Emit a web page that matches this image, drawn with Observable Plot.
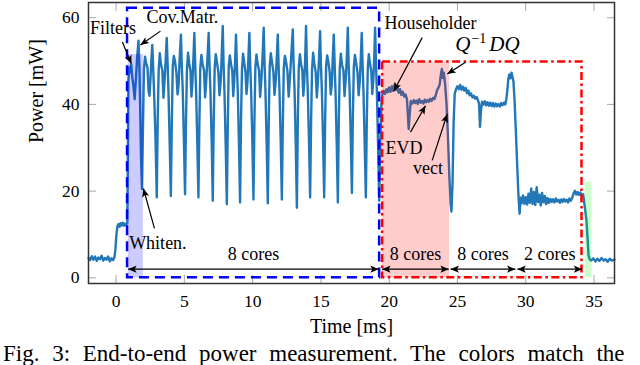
<!DOCTYPE html>
<html><head><meta charset="utf-8">
<script src="https://cdn.jsdelivr.net/npm/d3@7"></script>
<script src="https://cdn.jsdelivr.net/npm/@observablehq/plot@0.6"></script>
<style>
body{margin:0;background:#fff;width:640px;height:365px;overflow:hidden;position:relative;font-family:"Liberation Serif","Times New Roman",Times,"DejaVu Serif",serif}
#chart svg{display:block}
#chart svg text{font-family:"Liberation Serif","Times New Roman",Times,"DejaVu Serif",serif}
#cap{position:absolute;left:3px;top:342px;font-size:23px;line-height:24px;word-spacing:7px;white-space:nowrap;color:#000}
</style></head><body>
<div id="chart"></div>
<div id="cap">Fig. 3: End-to-end power measurement. The colors match the</div>
<script>
// ---- data: time [ms], power [mW] ----
const idleTrace = [[-2.02,4.6],[-1.9,4.1],[-1.78,5.0],[-1.66,4.2],[-1.54,4.9],[-1.42,3.9],[-1.3,4.7],[-1.18,4.3],[-1.06,5.1],[-0.94,4.0],[-0.82,4.6],[-0.7,4.2],[-0.58,4.9],[-0.46,3.8],[-0.34,4.5],[-0.22,4.1],[-0.12,4.8],[-0.05,6.5],[0.02,9.8],[0.1,11.9],[0.18,12.4],[0.26,11.8],[0.34,12.6],[0.42,12.1],[0.5,12.7],[0.58,12.0],[0.66,12.5],[0.74,12.2],[0.82,12.6]];
const whitenTrace = [[0.86,28],[0.9,45.5],[0.97,48.6],[1.04,47.4],[1.11,49.2],[1.19,46.1],[1.27,44.3],[1.36,41.2],[1.45,45.8],[1.55,51.2],[1.64,54.7],[1.71,48.2],[1.77,38.5],[1.83,27.4],[1.9,20.5],
[1.97,35],[2.04,48],[2.12,51],[2.2,49.5],[2.3,48.5],[2.38,43],[2.45,42],[2.52,46],[2.58,50],[2.65,53.7],[2.71,49],[2.78,43],[2.88,33],[2.98,18.6],
[3.05,37],[3.12,48],[3.2,51.8],[3.29,49.2],[3.39,47.8],[3.47,41.5],[3.55,45.5],[3.63,50.2],[3.71,55.3],[3.77,49.8],[3.84,42.5],[3.93,30.5],[4.01,18.9],
[4.08,35.5],[4.15,48.8],[4.23,51.2],[4.32,49.8],[4.42,47.2],[4.5,42.3],[4.58,44.6],[4.66,50.8],[4.75,56.1],[4.81,49.2],[4.88,43.4],[4.97,31.2],[5.05,19.3],
[5.12,36.4],[5.19,48.1],[5.27,51.9],[5.36,49.4],[5.45,47.6],[5.52,41.8],[5.59,45.1],[5.66,50.4],[5.73,56.5],[5.79,49.6],[5.86,42.8],[5.95,30.8],[6.03,18.6],
[6.1,35.8],[6.17,48.6],[6.25,51.4],[6.34,49.1],[6.44,47.9],[6.52,41.6],[6.6,45.3],[6.69,50.6],[6.78,56.5],[6.84,49.3],[6.91,43.1],[7.0,31.6],[7.08,17.8],
[7.15,36.2],[7.22,48.4],[7.3,51.6],[7.39,49.7],[7.49,47.4],[7.57,42.1],[7.65,44.8],[7.73,50.9],[7.81,58.1],[7.87,49.5],[7.94,42.6],[8.03,30.2],[8.11,17.0],
[8.18,35.1],[8.25,48.9],[8.33,51.3],[8.42,49.2],[8.51,47.7],[8.58,41.9],[8.65,45.4],[8.72,50.3],[8.78,56.1],[8.84,49.7],[8.91,43.2],[9.0,30.9],[9.08,17.4],
[9.15,36.6],[9.22,48.2],[9.3,51.7],[9.39,49.5],[9.48,47.3],[9.55,42.4],[9.62,45.0],[9.69,50.7],[9.76,56.5],[9.82,49.4],[9.89,42.9],[9.98,31.4],[10.06,18.1],
[10.13,35.9],[10.2,48.5],[10.28,51.5],[10.37,49.3],[10.47,47.8],[10.55,41.7],[10.63,45.2],[10.72,50.5],[10.81,57.7],[10.87,49.8],[10.94,43.0],[11.03,30.6],[11.11,17.2],
[11.18,36.3],[11.25,48.7],[11.33,51.8],[11.42,49.6],[11.52,47.5],[11.6,42.2],[11.68,44.9],[11.76,50.2],[11.84,56.1],[11.9,49.1],[11.97,42.7],[12.06,31.0],[12.14,18.1],
[12.21,35.4],[12.28,48.3],[12.36,51.2],[12.45,49.8],[12.55,47.6],[12.64,41.8],[12.72,45.6],[12.82,50.8],[12.94,57.3],[13.0,49.5],[13.07,43.3],[13.16,30.4],[13.24,16.2],
[13.31,36.8],[13.38,48.6],[13.46,51.6],[13.55,49.2],[13.64,47.9],[13.71,42.0],[13.78,45.1],[13.85,50.6],[13.91,58.1],[13.97,49.6],[14.04,42.8],[14.13,31.3],[14.21,18.6],
[14.28,35.7],[14.35,48.1],[14.43,51.9],[14.52,49.4],[14.62,47.4],[14.7,41.6],[14.78,45.3],[14.86,50.4],[14.94,56.9],[15.0,49.3],[15.07,43.1],[15.16,31.5],[15.24,18.6],
[15.31,36.1],[15.38,48.8],[15.46,51.3],[15.55,49.7],[15.64,47.5],[15.72,42.3],[15.8,44.7],[15.87,50.9],[15.94,56.1],[16.0,49.8],[16.07,42.9],[16.16,30.7],[16.24,17.4],
[16.31,36.5],[16.38,48.4],[16.46,51.7],[16.55,49.1],[16.65,47.8],[16.73,41.9],[16.81,45.5],[16.89,50.3],[16.97,57.7],[17.03,49.2],[17.1,43.4],[17.19,31.8],[17.27,19.6],
[17.34,37.2],[17.41,48.7],[17.49,51.4],[17.58,49.6],[17.68,47.3],[17.76,42.1],[17.84,45.0],[17.92,50.7],[17.99,56.5],[18.05,49.4],[18.12,42.6],[18.21,30.3],[18.29,18.6],
[18.36,36.0],[18.43,48.2],[18.51,51.6],[18.6,49.3],[18.69,47.6],[18.76,42.4],[18.83,45.2],[18.9,50.5],[18.97,57.7],[19.03,49.7],[19.1,42.8],[19.19,30.1],[19.27,17.8]];
const evdTrace = [[19.35,31.5],[19.43,40.2],[19.5,42.3],[19.6,43.1],[19.7,42.4],[19.8,43.5],[19.9,42.8],[20.0,43.9],[20.1,42.9],[20.2,44.2],[20.3,43.1],[20.4,44.6],[20.5,43.3],[20.6,44.0],[20.7,42.7],[20.8,43.5],[20.9,42.2],[21.0,42.9],[21.1,41.8],[21.2,42.3],[21.3,41.2],[21.37,37.5],[21.43,34.3],[21.5,37.8],[21.58,40.8],[21.7,40.2],[21.8,41.0],[21.9,40.3],[22.0,40.9],[22.1,40.1],[22.2,41.2],[22.3,40.4],[22.4,40.8],[22.5,40.2],[22.6,41.1],[22.7,40.5],[22.8,41.0],[22.9,40.6],[23.0,41.3],[23.1,40.8],[23.2,41.5],[23.3,41.2],[23.4,42.0],[23.5,43.2],[23.6,43.8],[23.7,44.6],[23.78,46.8],[23.86,48.2],[23.93,46.1],[24.0,47.3],[24.1,44.5],[24.2,40.0],[24.3,33.0],[24.4,24.0],[24.5,17.0],[24.56,15.3],[24.64,22.0],[24.72,36.0],[24.8,42.5]];
const secondTrace = [[24.9,43.6],[25.0,44.2],[25.1,43.5],[25.2,44.5],[25.3,43.4],[25.4,44.1],[25.5,43.2],[25.6,43.8],[25.7,42.6],[25.8,43.2],[25.9,42.1],[26.0,42.5],[26.1,41.6],[26.2,42.0],[26.3,41.3],[26.4,41.7],[26.5,41.0],[26.58,40.2],[26.65,34.8],[26.72,38.5],[26.8,40.6],[26.9,40.0],[27.0,40.7],[27.1,39.8],[27.2,40.5],[27.3,39.7],[27.4,40.4],[27.5,39.6],[27.6,40.3],[27.7,39.5],[27.8,40.2],[27.9,39.6],[28.0,40.1],[28.1,39.5],[28.2,40.3],[28.3,39.8],[28.4,40.4],[28.5,40.0],[28.58,41.2],[28.65,43.2],[28.72,45.8],[28.8,46.9],[28.88,46.0],[28.96,47.3],[29.04,46.2],[29.1,45.3],[29.18,41.0],[29.26,35.0],[29.35,28.0],[29.45,20.0],[29.55,14.8],[29.62,18.5]];
const twoCoreTrace = [[29.7,17.2],[29.8,19.0],[29.9,17.1],[30.0,18.6],[30.1,16.9],[30.2,19.4],[30.3,17.3],[30.4,20.6],[30.5,17.0],[30.6,19.8],[30.7,16.8],[30.8,20.9],[30.9,17.5],[31.0,19.2],[31.1,16.7],[31.2,19.6],[31.3,17.4],[31.4,18.9],[31.5,17.0],[31.6,18.4],[31.7,17.3],[31.8,18.2],[31.9,17.5],[32.0,18.1],[32.1,17.4],[32.2,18.3],[32.3,17.6],[32.4,18.0],[32.5,17.3],[32.6,18.1],[32.7,17.5],[32.8,18.2],[32.9,17.6],[33.0,18.0],[33.1,17.4],[33.2,18.3],[33.3,17.8],[33.42,18.6],[33.5,19.5],[33.6,20.1],[33.7,19.2],[33.8,19.8],[33.9,19.1],[34.0,19.7],[34.1,19.0],[34.2,19.3],[34.28,17.5],[34.36,15.5],[34.44,13.5],[34.52,9.5],[34.6,5.2],[34.68,4.3]];
const tailTrace = [[34.8,4.0],[34.95,4.5],[35.1,3.8],[35.25,4.4],[35.4,3.9],[35.55,4.6],[35.7,4.0],[35.85,4.3],[36.0,3.7],[36.15,4.4],[36.3,4.0],[36.5,4.2]];

const xTicks = [0, 5, 10, 15, 20, 25, 30, 35];
const yTicks = [0, 20, 40, 60];

// shaded phases
const shadeX1 = [0.9, 19.5, 34.35];
const shadeX2 = [2.0, 24.42, 34.85];
const shadeTop = [51.5, 49.6, 22];
const shadeColor = ["#0000ff", "#ff0000", "#00ff00"];

// dashed boxes: whitening part (blue) and EVD part (red)
const blueBox = {x1: 0.84, x2: 19.3, y1: 0, y2: 62.2};
const redBox = {x1: 19.52, x2: 34.12, y1: 0, y2: 49.8};

// core spans
const spanStart = [0.88, 19.48, 24.49, 29.38];
const spanEnd = [19.24, 24.37, 29.25, 34.14];
const spanLabel = ["8 cores", "8 cores", "8 cores", "2 cores"];
const spanY = 2;
const spanLabelY = 5.4;

// annotations
const noteLabel = ["Filters", "Cov.Matr.", "Whiten.", "Householder", "Q−1DQ", "EVD", "vect"];
const noteX = [-0.23, 4.86, 3.06, 23.03, 27.2, 21.08, 22.84];
const noteY = [57.5, 60.2, 7.9, 58.7, 53.8, 29.9, 25.2];
const arrowX1 = [0.46, 3.25, 2.81, 22.42, 25.59, 21.56, 23.15];
const arrowY1 = [54.4, 56.9, 11.4, 55.4, 49.7, 33.6, 27.1];
const arrowX2 = [1.12, 1.78, 2.0, 20.34, 24.25, 22.66, 24.25];
const arrowY2 = [49.4, 53.7, 20.6, 43.1, 47.0, 39.7, 37.8];

// ---- build tables ----
const trace = [...idleTrace, ...whitenTrace, ...evdTrace, ...secondTrace, ...twoCoreTrace, ...tailTrace].map(([t, p]) => ({t, p}));
const shades = shadeX1.map((x1, i) => ({x1, x2: shadeX2[i], y1: 0, y2: shadeTop[i], c: shadeColor[i]}));
const spans = spanStart.map((s, i) => ({s, e: spanEnd[i], label: spanLabel[i]}));
const notes = noteLabel.map((label, i) => ({label, x: noteX[i], y: noteY[i], x1: arrowX1[i], y1: arrowY1[i], x2: arrowX2[i], y2: arrowY2[i]}));

const NS = "http://www.w3.org/2000/svg";
function head(orient) {
  return (color) => {
    const m = document.createElementNS(NS, "marker");
    m.setAttribute("viewBox", "-9 -5 10 10");
    m.setAttribute("markerWidth", 10);
    m.setAttribute("markerHeight", 10);
    m.setAttribute("markerUnits", "userSpaceOnUse");
    m.setAttribute("refX", 0);
    m.setAttribute("refY", 0);
    m.setAttribute("orient", orient);
    m.setAttribute("fill", color);
    m.setAttribute("stroke", "none");
    const p = document.createElementNS(NS, "path");
    p.setAttribute("d", "M-8.5,-3.6L0,0L-8.5,3.6L-6.5,0Z");
    m.appendChild(p);
    return m;
  };
}

const serif = '"Liberation Serif", "Times New Roman", Times, "DejaVu Serif", serif';
const chart = Plot.plot({
  width: 640, height: 340,
  marginLeft: 88, marginRight: 26, marginTop: 2, marginBottom: 57,
  style: {fontFamily: serif, background: "white", overflow: "visible", color: "black"},
  x: {domain: [-2.02, 36.5]},
  y: {domain: [-1.3, 63.5]},
  marks: [
    Plot.axisX({ticks: xTicks, tickSize: -8, tickPadding: 19, stroke: "#aaa", strokeWidth: 1, fill: "black", fontSize: 17.5, label: null}),
    Plot.axisX({anchor: "top", ticks: xTicks, tickSize: -8, tickFormat: () => "", stroke: "#aaa", strokeWidth: 1, label: null}),
    Plot.axisY({ticks: yTicks, tickSize: -8, tickPadding: 17, stroke: "#aaa", strokeWidth: 1, fill: "black", fontSize: 17.5, label: null}),
    Plot.axisY({anchor: "right", ticks: yTicks, tickSize: -8, tickFormat: () => "", stroke: "#aaa", strokeWidth: 1, label: null}),
    Plot.line(trace, {x: "t", y: "p", stroke: "#2277b8", strokeWidth: 2.4, strokeLinejoin: "round"}),
    Plot.rect(shades, {x1: "x1", x2: "x2", y1: "y1", y2: "y2", fill: "c", fillOpacity: 0.2}),
    Plot.rect([blueBox], {x1: "x1", x2: "x2", y1: "y1", y2: "y2", fill: "none", stroke: "#0000ff", strokeWidth: 2.5, strokeDasharray: "10,6"}),
    Plot.rect([redBox], {x1: "x1", x2: "x2", y1: "y1", y2: "y2", fill: "none", stroke: "#ff0000", strokeWidth: 2.5, strokeDasharray: "8,3.5,2.5,3.5"}),
    Plot.frame({stroke: "#333", strokeWidth: 1.5}),
    Plot.link(spans, {x1: "s", x2: "e", y1: () => spanY, y2: () => spanY, stroke: "black", strokeWidth: 1.2, markerStart: head("auto-start-reverse"), markerEnd: head("auto")}),
    Plot.text(spans, {x: (d) => (d.s + d.e) / 2, y: () => spanLabelY, text: "label", fontSize: 18, fill: "black"}),
    Plot.link(notes, {x1: "x1", y1: "y1", x2: "x2", y2: "y2", stroke: "black", strokeWidth: 1.2, markerEnd: head("auto")}),
    Plot.text(notes, {x: "x", y: "y", text: "label", fontSize: 18, fill: "black"}),
    Plot.text(["Time [ms]"], {frameAnchor: "bottom", dy: 49, fontSize: 20, fill: "black"}),
    Plot.text(["Power [mW]"], {frameAnchor: "left", dx: -52, rotate: -90, fontSize: 20, fill: "black"})
  ]
});
// typeset Q^{-1}DQ
chart.querySelectorAll("text").forEach((t) => {
  if (t.textContent === "Q−1DQ") {
    t.textContent = "";
    t.setAttribute("font-size", 21);
    const a = document.createElementNS(NS, "tspan"); a.setAttribute("font-style", "italic"); a.textContent = "Q";
    const b = document.createElementNS(NS, "tspan"); b.setAttribute("dy", "-8"); b.setAttribute("dx", "1"); b.setAttribute("font-size", "14"); b.textContent = "−1";
    const c = document.createElementNS(NS, "tspan"); c.setAttribute("dy", "8"); c.setAttribute("dx", "3"); c.setAttribute("font-style", "italic"); c.textContent = "DQ";
    t.append(a, b, c);
  }
});
document.getElementById("chart").appendChild(chart);
</script></body></html>
